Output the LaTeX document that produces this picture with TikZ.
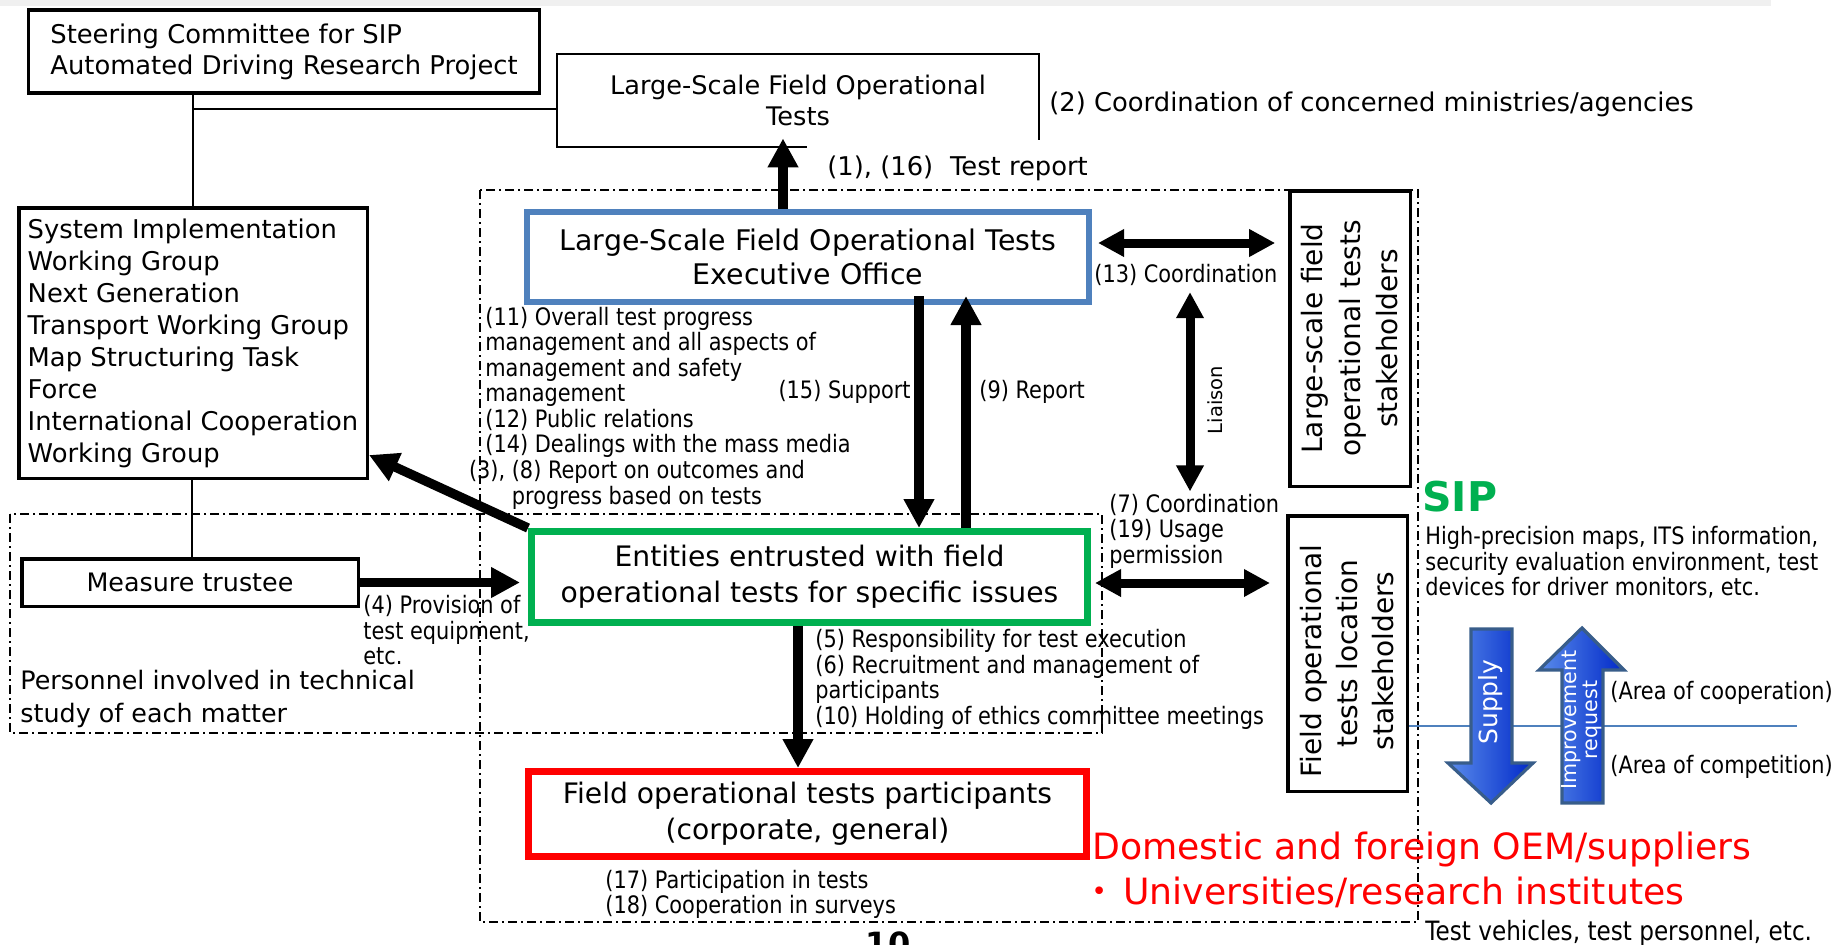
\documentclass[tikz,border=0pt]{standalone}
\usepackage{fontspec}
\setmainfont{DejaVu Sans}
\newfontfamily\nar[FakeStretch=0.87]{DejaVu Sans}
\newfontfamily\cjkfont{Noto Sans CJK JP}
\usetikzlibrary{arrows.meta,calc}
\definecolor{eblue}{RGB}{79,129,189}
\definecolor{egreen}{RGB}{0,176,80}
\definecolor{ered}{RGB}{255,0,0}
\definecolor{stripgray}{RGB}{240,240,240}
\definecolor{arrowedge}{RGB}{56,93,138}
\definecolor{arrowlight}{RGB}{90,140,235}
\definecolor{arrowdark}{RGB}{0,40,200}
\begin{document}
\begin{tikzpicture}[x=0.5pt,y=-0.5pt,
 box/.style={draw, fill=white, line width=1.75pt, inner sep=0pt, align=center},
 lbl/.style={inner sep=0pt, align=left, font=\nar\fontsize{12pt}{12.75pt}\selectfont},
 fat/.style={line width=4.7pt, -{Triangle[width=14.5pt,length=14.5pt]}},
 fatdbl/.style={line width=4.5pt, {Triangle[width=13pt,length=13pt]}-{Triangle[width=13pt,length=13pt]}},
 conn/.style={line width=1pt},
 dashbox/.style={line width=0.8pt, dash pattern=on 4.5pt off 2pt on 1pt off 2pt},
 blockarrow/.style={draw=arrowedge, line width=1.6pt, left color=arrowlight, right color=arrowdark, line join=miter},
]
\useasboundingbox (0,0) rectangle (1832,944);
\fill[stripgray] (0,0) rectangle (1771,6);
\draw[dashbox] (480,190) rectangle (1418,922);
\draw[dashbox] (10,514) rectangle (1102,733);

% boxes
\node[box, minimum width=255.5pt, minimum height=41.5pt, align=left, font=\fontsize{12.9pt}{15.5pt}\selectfont] (steer) at (284,51.5) {Steering Committee for SIP\\Automated Driving Research Project};
\node[box, minimum width=174.25pt, minimum height=135.25pt, align=left, font=\fontsize{12.9pt}{16pt}\selectfont] (wg) at (193,343) {System Implementation\\Working Group\\Next Generation\\Transport Working Group\\Map Structuring Task\\Force\\International Cooperation\\Working Group};
\node[inner sep=0pt, minimum width=241pt, minimum height=46.5pt, align=center, font=\fontsize{12.8pt}{15.5pt}\selectfont] (lsfot) at (798,100.5) {Large-Scale Field Operational\\Tests};
\draw[conn] ([xshift=125pt]lsfot.south west) -- (lsfot.south west) -- (lsfot.north west) -- (lsfot.north east) -- ([yshift=3.5pt]lsfot.south east);
\node[box, draw=eblue, line width=3pt, minimum width=281pt, minimum height=45pt, font=\fontsize{14.2pt}{17pt}\selectfont] (exec) at (808,257) {Large-Scale Field Operational Tests\\Executive Office};
\node[box, draw=egreen, line width=3.5pt, minimum width=278pt, minimum height=45.5pt, font=\fontsize{14.1pt}{18pt}\selectfont] (ent) at (809.5,577) {Entities entrusted with field\\operational tests for specific issues};
\node[box, draw=ered, line width=3.5pt, minimum width=279pt, minimum height=42.5pt, font=\fontsize{14.1pt}{18pt}\selectfont] (part) at (807.5,814) {Field operational tests participants\\(corporate, general)};
\node[box, minimum width=168.25pt, minimum height=23.75pt, font=\fontsize{12.7pt}{15pt}\selectfont] (meas) at (190,582.5) {Measure trustee};
\node[box, rotate=90, minimum width=147.75pt, minimum height=60.25pt, font=\fontsize{14pt}{18.75pt}\selectfont] (sh1) at (1350,338.5) {Large-scale field\\operational tests\\stakeholders};
\node[box, rotate=90, minimum width=137.75pt, minimum height=59.75pt, font=\fontsize{14pt}{18pt}\selectfont] (sh2) at (1347.5,653.5) {Field operational\hspace*{7.5pt}\\tests location\hspace*{7.5pt}\\stakeholders\hspace*{7.5pt}};

% thin connectors
\coordinate (xv) at (193,0);
\coordinate (yh) at (0,109);
\coordinate (xm) at (192,0);
\draw[conn] (steer.south -| xv) -- (wg.north -| xv);
\draw[conn] (xv |- yh) -- (lsfot.west |- yh);
\draw[conn] (wg.south -| xm) -- (meas.north -| xm);

% area line
\coordinate (lineend) at (1797,726);
\draw[eblue, line width=0.8pt] (sh2.south |- lineend) -- (lineend);

% labels
\node[anchor=west, inner sep=0pt, font=\fontsize{12.9pt}{15pt}\selectfont] (t2) at (1049,104) {(2) Coordination of concerned ministries/agencies};
\node[anchor=west, inner sep=0pt, font=\fontsize{12.9pt}{15pt}\selectfont] (t1) at (827,168) {(1), (16)\hspace{0.65em}Test report};
\node[lbl, anchor=west] (t11) at (485,382.5) {(11) Overall test progress\\management and all aspects of\\management and safety\\management\\(12) Public relations\\(14) Dealings with the mass media};
\node[lbl, align=center] (t38) at (637,485) {(3), (8) Report on outcomes and\\progress based on tests};
\node[lbl, anchor=east] (t15) at (911,392) {(15) Support};
\node[lbl, anchor=west] (t9) at (979,392) {(9) Report};
\node[lbl, anchor=west] (t13) at (1094,275) {(13) Coordination};
\node[lbl, anchor=west] (t7) at (1109,531) {(7) Coordination\\(19) Usage\\permission};
\node[rotate=90, inner sep=0pt, font=\fontsize{9.75pt}{10pt}\selectfont] (tlia) at (1215,400) {Liaison};
\node[lbl, anchor=west] (t4) at (363,630.5) {(4) Provision of\\test equipment,\\etc.};
\node[anchor=west, inner sep=0pt, align=left, font=\fontsize{12.7pt}{16.5pt}\selectfont] (tpers) at (20,698.5) {Personnel involved in technical\\study of each matter};
\node[lbl, anchor=west] (t5) at (815,679.5) {(5) Responsibility for test execution\\(6) Recruitment and management of\\participants\\(10) Holding of ethics committee meetings};
\node[lbl, anchor=west] (t17) at (605,894.5) {(17) Participation in tests\\(18) Cooperation in surveys};
\node[anchor=west, inner sep=0pt, text=egreen, font=\bfseries\fontsize{20.5pt}{22pt}\selectfont] (tsip) at (1422,497) {SIP};
\node[lbl, anchor=west] (thp) at (1425,562.5) {High-precision maps, ITS information,\\security evaluation environment, test\\devices for driver monitors, etc.};
\node[lbl, anchor=west] (tcoop) at (1610,693) {(Area of cooperation)};
\node[lbl, anchor=west] (tcomp) at (1610,767) {(Area of competition)};
\node[anchor=west, inner sep=0pt, font=\nar\fontsize{13.3pt}{15pt}\selectfont] (tveh) at (1425,933) {Test vehicles, test personnel, etc.};
\node[anchor=west, inner sep=0pt, align=left, text=ered, font=\fontsize{18.1pt}{22.5pt}\selectfont] (tred) at (1092,869.5) {Domestic and foreign OEM/suppliers\\\makebox[0.85em][l]{\hspace{-0.3em}{\cjkfont ・}}Universities/research institutes};
\node[anchor=north, inner sep=0pt, font=\bfseries\fontsize{16pt}{16pt}\selectfont] (tpage) at (888,931) {10};

% block arrows
\path[blockarrow] (1471,629) -- (1512,629) -- (1512,763) -- (1533,763) -- (1491,803) -- (1448,763) -- (1471,763) -- cycle;
\node[rotate=90, inner sep=0pt, text=white, font=\fontsize{12.5pt}{13pt}\selectfont] (tsup) at (1491,702) {Supply};
\path[blockarrow] (1562,803) -- (1603,803) -- (1603,670) -- (1624,670) -- (1582,628) -- (1539,670) -- (1562,670) -- cycle;
\node[rotate=90, inner sep=0pt, text=white, align=center, font=\fontsize{10.3pt}{10.5pt}\selectfont] (timp) at (1582,720) {Improvement\\request};

% thick arrows
\coordinate (x1) at (783,0);
\coordinate (x15) at (919,0);
\coordinate (x9) at (966,0);
\coordinate (xd) at (798,0);
\coordinate (xl) at (1190,0);
\coordinate (y13) at (0,243);
\coordinate (y7) at (0,583);
\draw[fat, shorten >=-4.5pt] (exec.north -| x1) -- (lsfot.south -| x1);
\draw[fat, shorten <=-4.5pt] (exec.south -| x15) -- (ent.north -| x15);
\draw[fat, shorten >=-4.5pt] (ent.north -| x9) -- (exec.south -| x9);
\draw[fat] (ent.south -| xd) -- (part.north -| xd);
\draw[fat, shorten >=4pt] (meas.east) -- (ent.west |- meas.east);
\draw[fat] (ent.north west) -- ([yshift=12.5pt]wg.south east);
\draw[fatdbl, shorten <=3pt, shorten >=6.4pt] (exec.east |- y13) -- (sh1.north |- y13);
\draw[fatdbl, shorten <=2pt, shorten >=8pt] (ent.east |- y7) -- (sh2.north |- y7);
\draw[fatdbl, shorten <=3pt, shorten >=1pt] (t13.south -| xl) -- (t7.north -| xl);
\end{tikzpicture}
\end{document}
